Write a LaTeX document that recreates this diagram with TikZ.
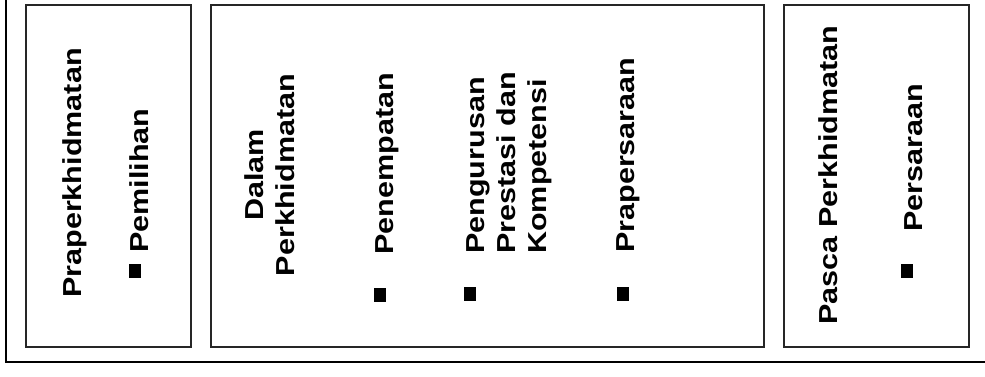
\documentclass[tikz,border=0pt]{standalone}
\usepackage{fontspec}
\newfontfamily\lbl{Liberation Sans}[FakeStretch=1.175]
\begin{document}
\begin{tikzpicture}[x=1pt,y=-1pt,
  frame/.style={draw=black,line width=1.6pt},
  box/.style={draw=black!85,line width=1.6pt},
  lab/.style={rotate=90,inner sep=0pt,font=\lbl\bfseries\fontsize{26}{31}\selectfont},
  bul/.style={fill=black,inner sep=0pt,minimum width=12pt,minimum height=14pt}]
\useasboundingbox (0,0) rectangle (985,376);
% outer frame
\coordinate (ftop) at (6,-2);
\coordinate (fcorner) at (6,362);
\coordinate (fright) at (987,362);
\draw[frame] (ftop) -- (fcorner) -- (fright);
% boxes
\draw[box] (26,5) rectangle (191,347);
\draw[box] (211,5) rectangle (764,347);
\draw[box] (784,5) rectangle (969,347);
% box 1
\node[lab,anchor=base] (pra) at (81,173) {Praperkhidmatan};
\node[bul] (b1) at (135,271) {};
\node[lab,anchor=base west] (pem) at (148,253) {Pemilihan};
% box 2 (base anchor of a multi-line node is the last line's baseline)
\node[lab,anchor=base,align=center] (dalam) at (294,175) {Dalam\\Perkhidmatan};
\node[bul] (b2) at (379.5,294.5) {};
\node[lab,anchor=base west] (pen) at (393,255) {Penempatan};
\node[bul] (b3) at (469.5,294) {};
\node[lab,anchor=base west,align=left] (peng) at (546,254) {Pengurusan\\Prestasi dan\\Kompetensi};
\node[bul] (b4) at (622.5,294) {};
\node[lab,anchor=base west] (prap) at (634,253) {Prapersaraan};
% box 3
\node[lab,anchor=base] (pasca) at (837,175) {Pasca Perkhidmatan};
\node[bul] (b5) at (907,270.5) {};
\node[lab,anchor=base west] (pers) at (922,232) {Persaraan};
\end{tikzpicture}
\end{document}
